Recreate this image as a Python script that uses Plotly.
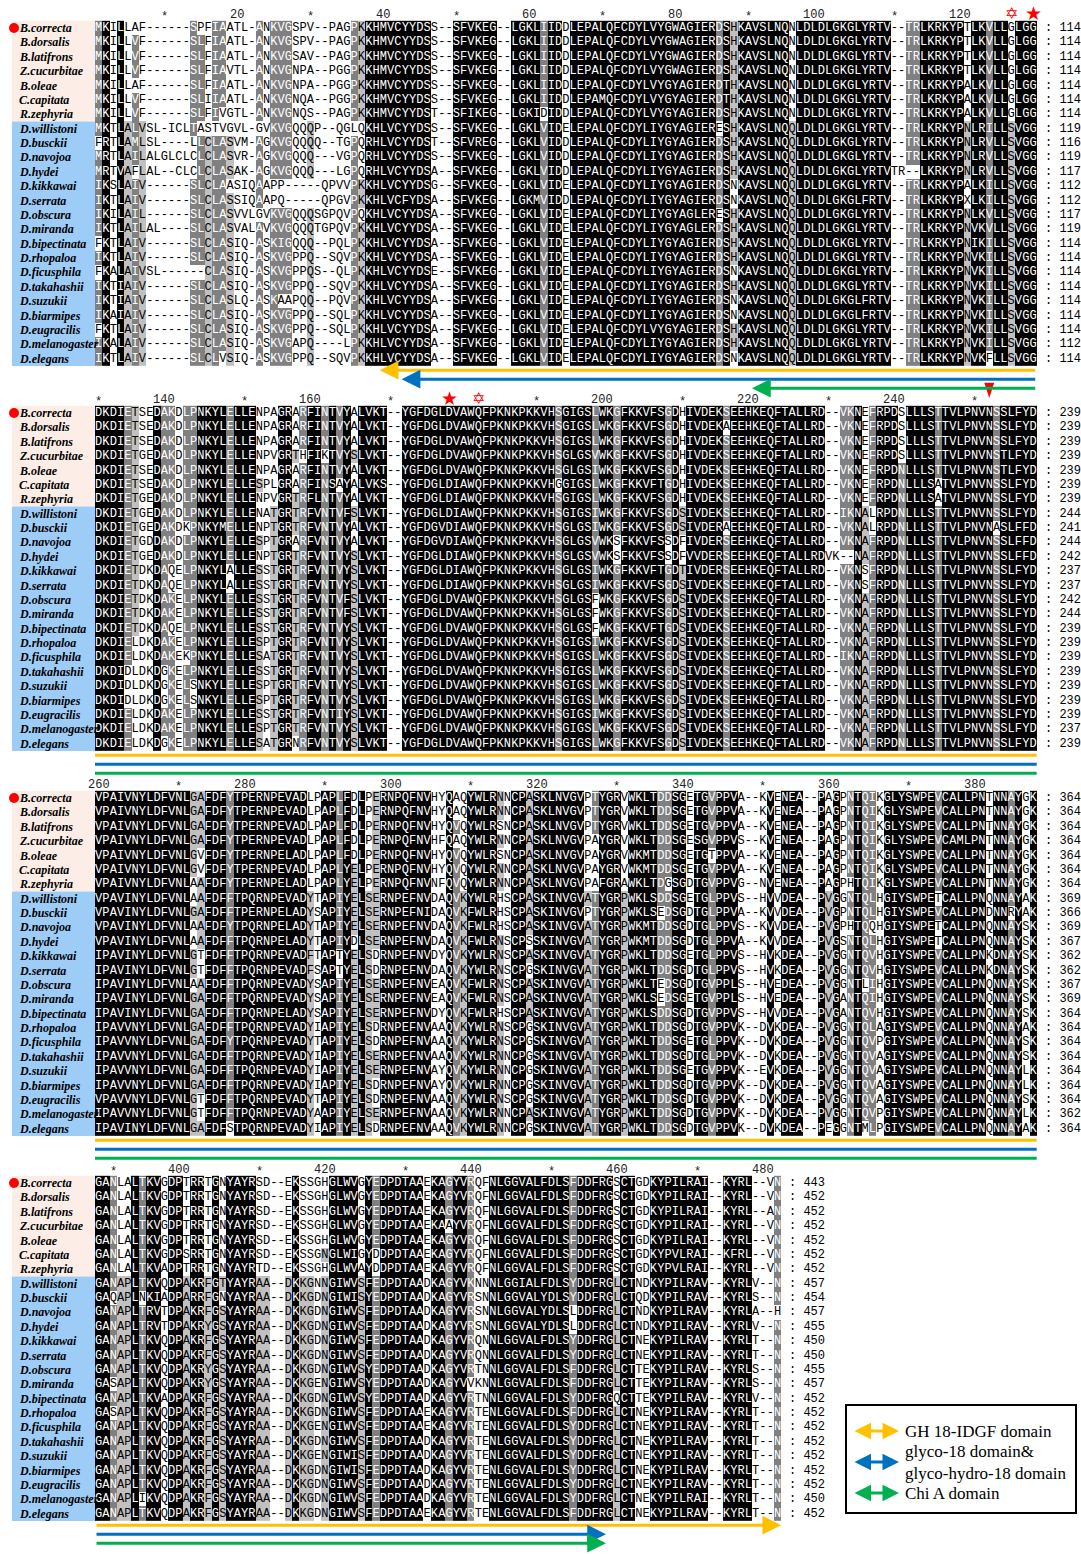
import plotly.graph_objects as go
from collections import Counter

# ---------------- data ----------------
SPECIES = ["B.correcta", "B.dorsalis", "B.latifrons", "Z.cucurbitae", "B.oleae", "C.capitata",
           "R.zephyria", "D.willistoni", "D.busckii", "D.navojoa", "D.hydei", "D.kikkawai",
           "D.serrata", "D.obscura", "D.miranda", "D.bipectinata", "D.rhopaloa", "D.ficusphila",
           "D.takahashii", "D.suzukii", "D.biarmipes", "D.eugracilis", "D.melanogaster", "D.elegans"]
N_TEPHRITIDAE = 7

BLOCK1_A = [
    "MKILLAF------SPFIAATL-ANKVGSPV--PAGPKKHMVCY",
    "MKILLVF------SLFIAATL-ANKVGSPV--PAGPKKHMVCY",
    "MKILLVF------SLFIAATL-ANKVGSAV--PAGPKKHMVCY",
    "MKILLVF------SLFIAVTL-ANKVGNPA--PGGPKKHMVCY",
    "MKILLAF------SLFIAATL-ANKVGNPA--PGGPKKHMVCY",
    "MKILLVF------SLIIAATL-ANKVGNQA--PGGPKKHMVCY",
    "MKILLVF------SLFIVGTL-ANKVGNQS--PAGPKKHMVCY",
    "MKTLALVSL-ICLTASTVGVL-GVKVGQQQP--QGLQKHLVCY",
    "FRTLAMLSL----LLCLASVM-AGKVGQQQQ--TGPQRHLVCY",
    "MRTLAILALGLCLCLCLASVR-AGKVGQQQ---VGPQRHLVCY",
    "MRTVAFLAL--CLCLCLASAK-AGKVGQQQ---LGPQRHLVCY",
    "IKSLAIV------SLCLAASIQAAPP-----QPVVPKKHLVCY",
    "IKTLAIV------SLCLASSIQAAPQ-----QPGVPKKHLVCF",
    "IKILAIL------SLCLASVVLGVKVGQQQSGPQVPQKHLVCY",
    "IKTLAILAL----SLCLASVALAVKVGQQQTGPQVPKKHLVCY",
    "FKTLAIV------SLCLASIQ-ASKIGQQQ--PQLPKKHLVCY",
    "IKTLAIV------SLCLASIQ-ASKVGPPQ--SQVPKKHLVCY",
    "FKALAIVSL------CLASIQ-ASKVGPPQS--QLPKKHLVCY",
    "IKTIAIV------SLCLASIQ-ASKVGPPQ--SQVPKKHLVCY",
    "IKTIAIV------SLCLASLQ-ASKAAPQQ--PQVPKKHLVCY",
    "IKAIAIV------SLCLASIQ-ASKVGPPQ--SQLPKKHLVCY",
    "FKTLAIV------SLCLASIQ-ASKVGPPQ--SQLPKKHLVCY",
    "IKALAIV------SLCLASIQ-ASKVGAPQ----LPKKHLVCY",
    "IKTLAIV------SLCLVSIQ-ASKVGPPQ--SQVPKKHLVCY",
]
BLOCK1_B = [
    "YDSS--SFVKEG--LGKLIIDDLEPALQFCDYLVYGWAGIERD",
    "YDSS--SFVKEG--LGKLIIDDLEPALQFCDYLVYGWAGIERD",
    "YDSS--SFVKEG--LGKLIIDDLEPALQFCDYLVYGWAGIERD",
    "YDSS--SFVKEG--LGKLIIDDLEPALQFCDYLVYGWAGIERD",
    "YDSS--SFVKEG--LGKLIIDDLEPALQFCDYLVYGYAGIERD",
    "YDSS--SFVKEG--LGKLIIDDLEPAMQFCDYLVYGYAGIERD",
    "YDST--SFIKEG--LGKIDIDDLEPALQFCDYLVYGYAGIERD",
    "YDSS--SFVKEG--LGKLVIDELEPALQFCDYLIYGYAGIERE",
    "YDST--SFVREG--LGKLVIDDLEPALQFCDYLIYGYAGIERD",
    "YDSS--SFVKEG--LGKLVIDDLEPALQFCDYLIYGYAGIERD",
    "YDSA--SFVKEG--LGKLVIDDLEPALQFCDYLIYGYAGIERD",
    "YDSG--SFVKEG--LGKLVIDELEPALQFCDYLIYGYAGIERD",
    "YDSA--SFVKEG--LGKMVIDDLEPALQFCDYLIYGYAGIERD",
    "YDSA--SFVKEG--LGKLVIDELEPALQFCDYLIYGYAGLERE",
    "YDSA--SFVKEG--LGKLVIDELEPALQFCDYLIYGYAGLERD",
    "YDSA--SFVKEG--LGKLVIDELEPALQFCDYLIYGYAGIERD",
    "YDSA--SFVKEG--LGKLVIDELEPALQFCDYLIYGYAGIERD",
    "YDSE--SFVKEG--LGKLVIDELEPALQFCDYLIYGYAGIERD",
    "YDSA--SFVKEG--LGKLVIDELEPALQFCDYLIYGYAGIERD",
    "YDSA--SFVKEG--LGKLVIDELEPALQFCDYLIYGYAGIERD",
    "YDSA--SFVKEG--LGKLVIDELEPALQFCDYLIYGYAGIERD",
    "YDSA--SFVKEG--LGKLVIDELEPALQFCDYLVYGYAGIERD",
    "YDSA--SFVKEG--LGKLVIDELEPALQFCDYLIYGYAGIERD",
    "YDSA--SFVKEG--LGKLVIDELEPALQFCDYLIYGYAGIERD",
]
BLOCK1_C = [
    "SHKAVSLNQNLDLDLGKGLYRTV--TRLKRKYPTLKVLLGLGG",
    "SHKAVSLNQNLDLDLGKGLYRTV--TRLKRKYPTLKVLLGLGG",
    "SHKAVSLNQNLDLDLGKGLYRTV--TRLKRKYPTLKVLLGLGG",
    "SHKAVSLNQNLDLDLGKGLYRTV--TRLKRKYPTLKVLLGLGG",
    "THKAVSLNQNLDLDLGKGLYRTV--TRLKRKYPALKVLLGLGG",
    "THKAVSLNQNLDLDLGKGLYRTV--TRLKRKYPALKVLLGLGG",
    "SHKAVSLNQNLDLDLGKGLYRTV--TRLKRKYPALKVLLGLGG",
    "SHKAVSLNQQLDLDLGKGLYRTV--TRLKRKYPNLRILLSVGG",
    "SHKAVSLNQQLDLDLGKGLYRTV--TRLKRKYPNLRVLLSVGG",
    "SHKAVSLNQQLDLDLGKGLYRTV--TRLKRKYPNLRVLLSVGG",
    "SHKAVSLNQQLDLDLGKGLYRTVTR--LKRKYPNLRVLLSVGG",
    "SNKAVSLNQQLDLDLGKGLYRTV--TRLKRKYPALKILLSVGG",
    "SNKAVSLNQQLDLDLGKGLFRTV--TRLKRKYPXLKILLSVGG",
    "SHKAVSLNQQLDLDLGKGLYRTV--TRLKRKYPNLKVLLSVGG",
    "SHKAVSLNQQLDLDLGKGLYRTV--TRLKRKYPNVKVLLSVGG",
    "SHKAVSLNQQLDLDLGKGLYRTV--TRLKRKYPNIKILLSVGG",
    "SHKAVSLNQQLDLDLGKGLYRTV--TRLKRKYPNVKILLSVGG",
    "SNKAVSLNQQLDLDLGKGLYRTV--TRLKRKYPNVKILLSVGG",
    "SHKAVSLNQQLDLDLGKGLYRTV--TRLKRKYPNVKILLSVGG",
    "SNKAVSLNQQLDLDLGKGLFRTV--TRLKRKYPNVKILLSVGG",
    "SNKAVSLNQQLDLDLGKGLFRTV--TRLKRKYPNVKILLSVGG",
    "SHKAVSLNQQLDLDLGKGLYRTV--TRLKRKYPNVKILLSVGG",
    "SHKAVSLNQQLDLDLGKGLYRTV--TRLKRKYPNVKILLSVGG",
    "SNKAVSLNQQLDLDLGKGLYRTV--TRLKRKYPNVKFLLSVGG",
]

BLOCK2_A = [
    "DKDIETSEDAKDLPNKYLELLENPAGRARFINTVYALVKT--Y",
    "DKDIETSEDAKDLPNKYLELLENPAGRARFINTVYALVKT--Y",
    "DKDIETSEDAKDLPNKYLELLENPAGRARFINTVYALVKT--Y",
    "DKDIETGEDAKDLPNKYLELLENPVGRTHFIKTVYSLVKT--Y",
    "DKDIETSEDAKDLPNKYLELLENPAGRARFINTVYALVKT--Y",
    "DKDIETSEDAKDLPNKYLELLESPLGRARFINSAYALVKS--Y",
    "DKDIETGEDAKDLPNKYLELLENPVGRTRFLNTVYALVKT--Y",
    "DKDIETGEDAKDLPNKYLELLENATGRTRFVNTVFSLVKT--Y",
    "DKDIETGEDAKDKPNKYMELLENPTGRTRFVNTVYALVKT--Y",
    "DKDIETGDDAKDLPNKYLELLESPTGRARFVNTVYALVKT--Y",
    "DKDIETGEDAKDLPNKYLELLENPTGRTRFVNTVYSLVKT--Y",
    "DKDIETDKDAQELPNKYLALLESSTGRTRFVNTVYSLVKT--Y",
    "DKDIETDKDAQELPNKYLALLESSTGRTRFVNTVYSLVKT--Y",
    "DKDIETDKDAKELPNKYLELLESSTGRTRFVNTVFSLVKT--Y",
    "DKDIETDKDAKELPNKYLELLESSTGRTRFVNTVFSLVKT--Y",
    "DKDIETDKDAQELPNKYLELLESSTGRTRFVNTVYSLVKT--Y",
    "DKDIELDKDAKELPNKYLELLESPTGRTRFVNTVYSLVKT--Y",
    "DKDIELDKDAKEKPNKYLELLESATGRTRFVNTVYSLVKT--Y",
    "DKDIDLDKDGKELPNKYLELLESSTGRTRFVNTVYSLVKT--Y",
    "DKDIDLDKDGKELSNKYLELLESPTGRTRFVNTVYSLVKT--Y",
    "DKDIDLDKDGKELSNKYLELLESPTGRTRFVNTVYSLVKT--Y",
    "DKDIELDKDAKELPNKYLELLESSTGRTRFVNTIYSLVKT--Y",
    "DKDIELDKDAKELPNKYLELLESPTGRTRFVNTVYSLVKT--Y",
    "DKDIELDKDGKELPNKYLELLESATGRNRFVNTVYSLVKT--Y",
]
BLOCK2_B = [
    "GFDGLDVAWQFPKNKPKKVHSGIGSLWKGFKKVFSGDHIVDEK",
    "GFDGLDVAWQFPKNKPKKVHSGIGSLWKGFKKVFSGDHIVDEK",
    "GFDGLDVAWQFPKNKPKKVHSGIGSLWKGFKKVFSGDHIVDEK",
    "GFDGLDVAWQFPKNKPKKVHSGLGSVWKGFKKVFSGDHIVDEK",
    "GFDGLDVAWQFPKNKPKKVHSGLGSIWKGFKKVFSGDHIVDEK",
    "GFDGLDIAWQFPKNKPKKVHGGIGSLWKGFKKVFTGDHIVDEK",
    "GFDGLDIAWQFPKNKPKKVHSGIGSLWKGFKKVFSGDHIVDEK",
    "GFDGLDIAWQFPKNKPKKVHSGIGSIWKGFKKVFSGDSIVDEK",
    "GFDGVDIAWQFPKNKPKKVHSGLGSIWKGFKKVFSGDSIVDER",
    "GFDGVDIAWQFPKNKPKKVHSGLGSVWKSFKKVFSSDFIVDER",
    "GFDGLDIAWQFPKNKPKKVHSGLGSVWKSFKKVFSSDFVVDER",
    "GFDGLDIAWQFPKNKPKKVHSGLGSIWKGFKKVFTGDTIVDER",
    "GFDGLDIAWQFPKNKPKKVHSGLGSIWKGFKKVFSGDSIVDEK",
    "GFDGLDVAWQFPKNKPKKVHSGLGSFWKGFKKVFSGDSIVDEK",
    "GFDGLDVAWQFPKNKPKKVHSGLGSFWKGFKKVFSGDSIVDEK",
    "GFDGLDVAWQFPKNKPKKVHSGLGSFWKGFKKVFTGDSIVDEK",
    "GFDGLDVAWQFPKNKPKKVHSGIGSIWKGFKKVFSGDSIVDEK",
    "GFDGLDVAWQFPKNKPKKVHSGIGSLWKGFKKVFSGDSIVDEK",
    "GFDGLDVAWQFPKNKPKKVHSGIGSLWKGFKKVFSGDSIVDEK",
    "GFDGLDVAWQFPKNKPKKVHSGIGSLWKGFKKVFSGDSIVDEK",
    "GFDGLDVAWQFPKNKPKKVHSGIGSLWKGFKKVFSGDSIVDEK",
    "GFDGLDVAWQFPKNKPKKVHSGIGSIWKGFKKVFSGDSIVDEK",
    "GFDGLDVAWQFPKNKPKKVHSGIGSLWKGFKKVFSGDSIVDEK",
    "GFDGLDVAWQFPKNKPKKVHSGIGSLWKGFKKVFSGDSIVDEK",
]
BLOCK2_C = [
    "SEEHKEQFTALLRD--VKNEFRPDSLLLSTTVLPNVNSSLFYD",
    "AEEHKEQFTALLRD--VKNEFRPDSLLLSTTVLPNVNSSLFYD",
    "SEEHKEQFTALLRD--VKNEFRPDSLLLSTTVLPNVNSSLFYD",
    "SEEHKEQFTALLRD--VKNEFRPDSLLLSTTVLPNVNSTLFYD",
    "SEEHKEQFTALLRD--VKNEFRPDNLLLSTTVLPNVNSTLFYD",
    "SEEHKEQFTALLRD--VKNEFRPDNLLLSATVLPNVNSSLFYD",
    "SEEHKEQFTALLRD--VKNEFRPDNLLLSATVLPNVNSSLFYD",
    "SEEHKEQFTALLRD--IKNALRPDNLLLSTTVLPNVNSSLFYD",
    "AEEHKEQFTALLRD--VKNALRPDNLLLSTTVLPNVNASLFFD",
    "SEEHKEQFTALLRD--VKNAFRPDNLLLSTTVLPNVNSSLFFD",
    "SEEHKEQFTALLRDVK--NAFRPDNLLLSTTVLPNVNSSLFFD",
    "SEEHKEQFTALLRD--VKNSFRPDNLLLSTTVLPNVNSSLFYD",
    "SEEHKEQFTALLRD--VKNSFRPDNLLLSTTVLPNVNSSLFYD",
    "SEEHKEQFTALLRD--VKNAFRPDNLLLSTTVLPNVNSSLFYD",
    "SEEHKEQFTALLRD--VKNAFRPDNLLLSTTVLPNVNSSLFYD",
    "SEEHKEQFTALLRD--VKNAFRPDNLLLSTTVLPNVNSSLFYD",
    "SEEHKEQFTALLRD--VKNAFRPDNLLLSTTVLPNVNSSLFYD",
    "SEEHKEQFTALLRD--IKNAFRPDNLLLSTTVLPNVNSSLFYD",
    "SEEHKEQFTALLRD--VKNAFRPDNLLLSTTVLPNVNSSLFYD",
    "SEEHKEQFTALLRD--VKNAFRPDNLLLSTTVLPNVNSSLFYD",
    "SEEHKEQFTALLRD--VKNAFRPDNLLLSTTVLPNVNSSLFYD",
    "SEEHKEQFTALLRD--VKNAFRPDNLLLSTTVLPNVNSSLFYD",
    "SEEHKEQFTALLRD--VKNAFRPDNLLLSTTVLPNVNSSLFYD",
    "SEEHKEQFTALLRD--VKNAFRPDNLLLSTTVLPNVNSSLFYD",
]

BLOCK3_A = [
    "VPAIVNYLDFVNLGAFDFYTPERNPEVADLPAPLFDLPERNPQ",
    "VPAIVNYLDFVNLGAFDFYTPERNPEVADLPAPLFDLPERNPQ",
    "VPAIVNYLDFVNLGAFDFYTPERNPEVADLPAPLFDLPERNPQ",
    "VPAIVNYLDFVNLGAFDFYTPERNPEVADLPAPLFDLPERNPQ",
    "VPAIVNYLDFVNLGVFDFYTPERNPELADLPAPLFDLPERNPQ",
    "VPAIVNYLDFVNLGVFDFYTPERNPEVADLPAPLYELPERNPQ",
    "VPAIVNYLDFVNLAAFDFYTPERNPELADLPAPLYELPERNPQ",
    "VPAVINYLDFVNLAAFDFFTPQRNPEVADYTAPIYELSERNPE",
    "VPAVINYLDFVNLGAFDFFTPERNPELADYSAPIYELSERNPE",
    "VPAVINYLDFVNLAAFDFYTPQRNPELADYTAPIYELSERNPE",
    "VPAVINYLDFVNLAAFDFFTPQRNPELADYTAPIYDLSERNPE",
    "IPAVINYLDFVNLGTFDFFTPQRNPEVADFTAPTYELSDRNPE",
    "IPAVINYLDFVNLGTFDFFTPQRNPEVADFSAPTYELSDRNPE",
    "IPAVINYLDFVNLAAFDFFTPQRNPEVADYSAPIYELSERNPE",
    "IPAVINYLDFVNLGAFDFFTPQRNPEVADYSAPIYELSERNPE",
    "IPAVINYLDFVNLGAFDFFTPQRNPELADYSAPIYELSERNPE",
    "IPAVVNYLDFVNLGAFDFFTPQRNPEVADYIAPIYELSDRNPE",
    "IPAVVNYLDFVNLGAFDFYTPQRNPEVADYTAPIYELSDRNPE",
    "IPAVVNYLDFVNLGAFDFFTPQRNPEVADYIAPIYELSERNPE",
    "IPAVVNYLDFVNLGAFDFFTPQRNPEVADYIAPIYELSERNPE",
    "IPAVVNYLDFVNLGAFDFFTPQRNPEVADYIAPIYELSDRNPE",
    "VPAVVNYLDFVNLGTFDFFTPQRNPEVADYTAPIYELSDRNPE",
    "IPAVVNYLDFVNLGTFDFFTPQRNPEVADYAAPIYELSERNPE",
    "IPAVINYLDFVNLGAFDFSTPQRNPEVADYIAPIYELSDRNPE",
]
BLOCK3_B = [
    "FNVHYQAQYWLRNNCPASKLNVGVPTYGRVWKLTDDSGETGVP",
    "FNVHYQAQYWLRNNCPASKLNVGVPTYGRVWKLTDDSGETGVP",
    "FNVHYQVQYWLRSNCPASKLNVGVPTYGRVWKLTDDSGETGVP",
    "FNVHFQAQYWLRNNCPASKLNVGVPAYGRVWKLTDDSGESGVP",
    "FNVHYQVQYWLRSNCPASKLNVGVPAYGRVWKMTDDSGETGTP",
    "FNVHYQVQYWLRNNCPASKLNVGVPAYGRVWKMTDDSGETGVP",
    "FNVNFQVQYWLRNNCPASKLNVGVPAFGRAWKLTDGSGDTGVP",
    "FNVDAQVKYWLRHSCPASKINVGVATYGRPWKLSDDSGETGLP",
    "FNIDAQVKFWLRHSCPASKINVGVPTYGRPWKLSEDSGDTGLP",
    "FNVDAQVKFWLRHSCPASKINVGVATYGRPWKMTDDSGDTGLP",
    "FNVDAQVKFWLRNSCPSSKINVGVATYGRPWKMTDDSGDTGLP",
    "FNVDYQVKYWLRNSCPASKINVGVATYGRPWKLTDDSGETGLP",
    "FNVDAQVKYWLRNSCPGSKINVGVATYGRPWKLTDDSGDTGLP",
    "FNVEAQVKFWLRNSCPASKINVGVATYGRPWKLTEDSGDTGVP",
    "FNVEAQVKFWLRNSCPASKINVGVATYGRPWKLSEDSGETGVP",
    "FNVDYQVKFWLRHSCPASKINVGVATYGRPWKLSDDSGDTGVP",
    "FNVAAQVKYWLRNSCPGSKINVGVATYGRPWKLTDDSGDTGVP",
    "FNVAAQVKYWLRNSCPGSKINVGVATYGRPWKLTDDSGETGLP",
    "FNVAAQVKYWLRNNCPGSKINVGVATYGRPWKLTDDSGDTGLP",
    "FNVAYQVKYWLRNNCPGSKINVGVATYGRPWKLTDDSGETGVP",
    "FNVAYQVKYWLRNNCPGSKINVGVATYGRPWKLTDDSGDTGVP",
    "FNVAAQVKYWLRNSCPGSKINVGVATYGRPWKLTDDSGDTGVP",
    "FNVAAQVKYWLRNNCPASKINVGVATYGRPWKLTDDSGDTGVP",
    "FNVAAQVKYWLRNNCPGSKINVGVATYGRPWKLTDDSGDTGVP",
]
BLOCK3_C = [
    "PVA--KVENEA--PAGPNTQIKGLYSWPEVCALLPNTNNAYGK",
    "PVA--KVENEA--PAGPNTQIKGLYSWPEVCALLPNTNNAYGK",
    "PVA--KVENEA--PAGPNTQIKGLYSWPEVCALLPNTNNAYGK",
    "PVS--KVENEA--PAGPNTQIKGLYSWPEVCAMLPNTNNAYGK",
    "PVA--KVENEA--PAGPNTQIKGLYSWPEVCALLPNTNNAYGK",
    "PVA--KVENEA--PAGPNTQIKGLYSWPEVCALLPNTNNAYGK",
    "PVG--NVENEA--PAGPHTQIKGLYSWPEVCALLPNTNNAYGK",
    "PVS--HVVDEA--PVGGNTQLHGIYSWPETCALLPNQNNAYAK",
    "PVA--KVVDEA--PVGPNTQLHGIYSWPEVCALLPNDNNRYAK",
    "PVS--KVVDEA--PVGPHTQQHGIYSWPETCALLPNQNNAYSK",
    "PVA--KVVDEA--PVGSNTQLHGIYSWPETCALLPNQNNAYSK",
    "PVS--HVKDEA--PVGGNTQVHGIYSWPEVCALLPNKDNAYSK",
    "PVS--HVKDEA--PVGGNTQVHGIYSWPEVCALLPNKDNAYSK",
    "PLS--HVEDEA--PVGGNTLIHGIYSWPEVCALLPNQNNAYSK",
    "PLS--HVEDEA--PVGANTQIHGIYSWPEVCALLPNQNNAYSK",
    "PVS--HVVDEA--PVGANTQVHGIYSWPEVCALLPNQNNAYSK",
    "PVK--DVKDEA--PVGGNTQLAGIYSWPEVCALLPNQNNAYAK",
    "PVK--DVKDEA--PVGGNTQVPGIYSWPEVCALLPNQNNAYSK",
    "PVK--DVKDEA--PVGGNTQVAGIYSWPEVCALLPNQNNAYSK",
    "PVK--EVKDEA--PVGGNTQVAGIYSWPEVCALLPNQNNAYLK",
    "PVK--DVKDEA--PVGGNTQVAGIYSWPEVCALLPNQNNAYLK",
    "PVK--DVKDEA--PVGGNTQVAGIYSWPEVCALLPNQNNAYSK",
    "PVK--DVKDEA--PVGGNTQVPGIYSWPEVCALLPNQNNAYLK",
    "PVK--DVKDEA--PEGGNTMLPGIYSWPEVCALLPNQNNAYAK",
]

BLOCK4_A = [
    "GANLALTKVGDPTRRTGNYAYRSD--EKSSGHGLWVGYEDPDTAAE",
    "GANLALTKVGDPTRRTGNYAYRSD--EKSSGHGLWVGYEDPDTAAE",
    "GANLALTKVGDPTRRTGNYAYRSD--EKSSGHGLWVGYEDPDTAAE",
    "GANLALTKVGDPTRRTGNYAYRSD--EKSSGHGLWVGYEDPDTAAE",
    "GANLALTKVGDPTRRTGNYAYRSD--EKSSGHGLWVGYEDPDTAAE",
    "GANLALTKVGDPSRRTGNYAYRSD--EKSSGNGLWIGYDDPDTAAE",
    "GANLALTKVADPTRRTGNYAYRTD--EKSSGHGLWVAYDDPDTAAE",
    "GANAPLTKVQDPAKRFGTYAYRAA--DKKGNNGIWVSFEDPDTAAD",
    "GAQAPLNKIADPARRFGNYAYRAA--DKKGDNGIWISYEDPDTAAD",
    "GANAPLTRVTDPAKRFGSYAYRAA--DKKGDNGIWVSFEDPDTAAD",
    "GANAPLTRVTDPAKRYGSYAYRAA--DKKGDNGIWVSFEDPDTAAD",
    "GANAPLTKVQDPAKRFGSYAYRAA--DKKGDNGIWVSFEDPDTAAD",
    "GANAPLTKVQDPAKRFGSYAYRAA--DKKGDNGIWVSFEDPDTAAD",
    "GANAPLTKVQDPAKRYGSYAYRAA--DKKGDNGIWVSYEDPDTAAD",
    "GASAPLTKVQDPAKRYGSYAYRAA--DKKGENGIWVSYEDPDTAAD",
    "GANAPLTKVADPAKRFGSYAYRAA--DKKGDNGIWVSYEDPDTAAD",
    "GASAPLTKVQDPAKRFGSYAYRAA--DKKGDNGIWVSFEDPDTAAE",
    "GANAPLTKVQDPAKRFGSYAYRAA--DKKGENGIWVSFEDPDTAAE",
    "GANAPLTKVQDPAKRFGSYAYRAA--DKKGDNGIWVSFEDPDTAAD",
    "GANAPLTKVQDPAKRFGSYAYRAA--DKKGENGIWISFEDPDTAAD",
    "GANAPLTKVQDPAKRFGSYAYRAA--DKKGDNGIWISFEDPDTAAD",
    "GANAPLTKVQDPAKRFGSYAYRAA--DKKGDNGIWVSFEDPDTAAD",
    "GANAPLIKVQDPAKRFGSYAYRAA--DKKGDNGIWVSFEDPDTAAD",
    "GANAPLTKVQDPAKRFGSYAYRAA--DKKGDNGIWVSFEDPDTAAE",
]
BLOCK4_B = [
    "KAGYVRQFNLGGVALFDLSFDDFRGSCTGDKYPILRAI--KYRL--VN",
    "KAGYVRQFNLGGVALFDLSFDDFRGSCTGDKYPILRAI--KYRL--VN",
    "KAGYVRQFNLGGVALFDLSFDDFRGSCTGDKYPILRAI--KYRL--AN",
    "KAAYVRQFNLGGVALFDLSFDDFRGSCTGDKYPILRAI--KYRL--VN",
    "KAGYVRQFNLGGVALFDLSFDDFRGSCTGDKYPILRAI--KYRL--VN",
    "KAGYVRQFNLGGVALFDLSFDDFRGSCTGDKYPVLRAI--KFRL--VN",
    "KAGYVRQFNLGGVALFDLSFDDFRGSCTGDKYPVLRAI--KYRL--VN",
    "KAGYVKNNNLGGIALFDLSYDDFRGLCTNDKYPILRAV--KYRLV--N",
    "KAGYVRSNNLGGVALYDLSYDDFRGLCTQDKYPILRAV--KYRLS--N",
    "KAGYVRSNNLGGVALYDLSLDDFRGLCTNDKYPILRAV--KYRLA--H",
    "KAGYVRSNNLGGVALYDLSLDDFRGLCTNDKYPILRAV--KYRLV--N",
    "KAGYVRQNNLGGVALFDLSYDDFRGLCTNEKYPILRAV--KYRLT--N",
    "KAGYVRQNNLGGVALFDLSYDDFRGLCTNEKYPILRAV--KYRLT--N",
    "KAGYVRTNNLGGVALFDLSFDDFRGLCTTEKYPILRAV--KYRLS--N",
    "KAGYVVKNNLGGVALFDLSFDDFRGLCTTEKYPILRAV--KYRLS--N",
    "KAGYVRTNNLGGVALFDLSYDDFRGQCTTEKYPILRAV--KYRLV--N",
    "KAGYVRTENLGGVALFDLSFDDFRGLCTNEKYPILRAV--KYRLT--N",
    "KAGYVRTENLGGVALFDLSYDDFRGLCTNEKYPILRAV--KYRLT--N",
    "KAGYVRTENLGGVALFDLSYDDFRGLCTNEKYPILRAV--KYRLT--N",
    "KAGYVRTENLGGVALFDLSYDDFRGLCTNEKYPILRAV--KYRLT--N",
    "KAGYVRTENLGGVALFDLSYDDFRGLCTNEKYPILRAV--KYRLT--N",
    "KAGYVRTENLGGVALFDLSYDDFRGLCTNEKYPILRAV--KYRLT--N",
    "KAGYVRTENLGGVALFDLSYDDFRGLCTNEKYPILRAI--KYRLT--N",
    "KAGYVRTENLGGVALFDLSFDDFRGLCTNEKYPILRAV--KYRLT--N",
]

END_COUNTS_1 = [114] * 7 + [119, 116, 119, 117, 112, 112, 117, 119, 114, 114, 114, 114, 114, 114, 114, 112, 114]
END_COUNTS_2 = [239] * 7 + [244, 241, 244, 242, 237, 237, 242, 244, 239, 239, 239, 239, 239, 239, 239, 237, 239]
END_COUNTS_3 = [364] * 7 + [369, 366, 369, 367, 362, 362, 367, 369, 364, 364, 364, 364, 364, 364, 364, 362, 364]
END_COUNTS_4 = [443] + [452] * 6 + [457, 454, 457, 455, 450, 450, 455, 457, 452, 452, 452, 452, 452, 452, 452, 450, 452]

SOLID_STAR_COLS = [129, 178]      # alignment columns marked with a red star
HEXAGRAM_COLS = [126, 182]        # alignment columns marked with a red hexagram
ARROW_MARK_COLS = [252]           # alignment column marked with a red arrowhead

DOMAIN_LABELS = ["GH 18-IDGF domain", "glyco-18 domain&<br>glyco-hydro-18 domain", "Chi A domain"]
DOMAIN_START = [40, 43, 91]
DOMAIN_END = [481, 457, 457]
DOMAIN_COLORS = ["#FFC000", "#0070C0", "#00B050"]

SIMILARITY_GROUPS = ["DN", "EQ", "ST", "KR", "FYW", "LIVM"]

# ---------------- assemble ----------------
def join_parts(*parts):
    return [''.join(p) for p in zip(*parts)]

BLOCKS = [join_parts(BLOCK1_A, BLOCK1_B, BLOCK1_C),
          join_parts(BLOCK2_A, BLOCK2_B, BLOCK2_C),
          join_parts(BLOCK3_A, BLOCK3_B, BLOCK3_C),
          join_parts(BLOCK4_A, BLOCK4_B)]
END_COUNTS = [END_COUNTS_1, END_COUNTS_2, END_COUNTS_3, END_COUNTS_4]

BLOCK_START = []
_c = 1
for blk in BLOCKS:
    BLOCK_START.append(_c)
    _c += len(blk[0])

# ---------------- geometry / style ----------------
X0, CW = 95.0, 7.3
ROW_H = 14.38
BLOCK_TOP = [28.0, 413.0, 798.0, 1183.0]
PEACH = "#FCEEE6"
BLUE = "#9DCDF7"
MONO = "Liberation Mono"
SERIF = "Liberation Serif"


def col_x(i):
    return X0 + (i + 0.5) * CW


def row_y(b, r):
    return BLOCK_TOP[b] + r * ROW_H


def group_of(ch):
    for g in SIMILARITY_GROUPS:
        if ch in g:
            return g
    return ch


def shading(block):
    nrow, ncol = len(block), len(block[0])
    z = [[0] * ncol for _ in range(nrow)]
    for j in range(ncol):
        col = [row[j] for row in block]
        cnt = Counter(group_of(c) for c in col if c.isalpha() and c != 'X')
        if not cnt:
            continue
        g, n = cnt.most_common(1)[0]
        f = n / nrow
        lvl = 3 if n == nrow else (2 if f >= 0.8 else (1 if f >= 0.6 else 0))
        if lvl == 0:
            continue
        for i, c in enumerate(col):
            if c.isalpha() and c != 'X' and group_of(c) == g:
                z[i][j] = lvl
    return z


CS = [[0, "#FFFFFF"], [0.25, "#FFFFFF"], [0.25, "#C0C0C0"], [0.5, "#C0C0C0"],
      [0.5, "#808080"], [0.75, "#808080"], [0.75, "#000000"], [1, "#000000"]]

fig = go.Figure()
shapes = []
annotations = []

all_markers = SOLID_STAR_COLS + HEXAGRAM_COLS + ARROW_MARK_COLS

for b, block in enumerate(BLOCKS):
    nrow, ncol = len(block), len(block[0])
    start = BLOCK_START[b]
    end = start + ncol - 1
    z = shading(block)
    xs = [col_x(i) for i in range(ncol)]
    ys = [row_y(b, r) for r in range(nrow)]
    fig.add_trace(go.Heatmap(z=z, x=xs, y=ys, zmin=0, zmax=3, colorscale=CS,
                             showscale=False, hoverinfo="skip"))
    wx, wy, wt, kx, ky, kt = [], [], [], [], [], []
    for r, row in enumerate(block):
        for i, ch in enumerate(row):
            if z[r][i] >= 2:
                wx.append(xs[i]); wy.append(ys[r]); wt.append(ch)
            else:
                kx.append(xs[i]); ky.append(ys[r]); kt.append(ch)
    fig.add_trace(go.Scatter(x=wx, y=wy, text=wt, mode="text", textposition="middle center",
                             textfont=dict(family=MONO, size=12, color="white"),
                             hoverinfo="skip", cliponaxis=False))
    fig.add_trace(go.Scatter(x=kx, y=ky, text=kt, mode="text", textposition="middle center",
                             textfont=dict(family=MONO, size=12, color="black"),
                             hoverinfo="skip", cliponaxis=False))

    # name panels
    top_edge = ys[0] - ROW_H / 2
    split = ys[N_TEPHRITIDAE - 1] + ROW_H / 2
    bottom = ys[-1] + ROW_H / 2
    shapes.append(dict(type="rect", xref="x", yref="y", x0=12, x1=X0, y0=top_edge, y1=split,
                       fillcolor=PEACH, line=dict(width=0), layer="below"))
    shapes.append(dict(type="rect", xref="x", yref="y", x0=12, x1=X0, y0=split, y1=bottom,
                       fillcolor=BLUE, line=dict(width=0), layer="below"))
    for r, name in enumerate(SPECIES):
        annotations.append(dict(x=17, y=ys[r], xref="x", yref="y", text="<b><i>%s</i></b>" % name,
                                showarrow=False, xanchor="left", yanchor="middle",
                                font=dict(family=SERIF, size=12, color="black")))
        annotations.append(dict(x=X0 + ncol * CW + 6, y=ys[r], xref="x", yref="y",
                                text=": %d" % END_COUNTS[b][r], showarrow=False,
                                xanchor="left", yanchor="middle",
                                font=dict(family=MONO, size=12, color="black")))
    fig.add_trace(go.Scatter(x=[14], y=[ys[0]], mode="markers",
                             marker=dict(color="#FF0000", size=10), hoverinfo="skip", cliponaxis=False))

    # ruler
    ry = BLOCK_TOP[b] - 13
    n = ((start + 9) // 10) * 10
    while n <= end:
        lab = str(n) if n % 20 == 0 else "*"
        if lab != "*" and any(abs(m - n) <= 3 for m in all_markers):
            n += 10
            continue
        idx = n - start - (1 if len(lab) == 3 else 0)
        annotations.append(dict(x=col_x(idx), y=ry + (2 if lab == "*" else 0), xref="x", yref="y",
                                text=lab, showarrow=False, xanchor="center", yanchor="middle",
                                font=dict(family=MONO, size=12, color="#222222")))
        n += 10

    # red markers
    for m in SOLID_STAR_COLS:
        if start <= m <= end:
            annotations.append(dict(x=col_x(m - start), y=BLOCK_TOP[b] - 15, xref="x", yref="y",
                                    text="★", showarrow=False, xanchor="center", yanchor="middle",
                                    font=dict(family="DejaVu Sans", size=19, color="#FF0000")))
    for m in HEXAGRAM_COLS:
        if start <= m <= end:
            annotations.append(dict(x=col_x(m - start), y=BLOCK_TOP[b] - 15, xref="x", yref="y",
                                    text="<b>✡</b>", showarrow=False, xanchor="center", yanchor="middle",
                                    font=dict(family="DejaVu Sans", size=16, color="#FF0000")))
    for m in ARROW_MARK_COLS:
        if start <= m <= end:
            fig.add_trace(go.Scatter(x=[col_x(m - start)], y=[BLOCK_TOP[b] - 15], mode="markers",
                                     marker=dict(symbol="arrow", angle=180, size=16, color="#FF0000"),
                                     hoverinfo="skip", cliponaxis=False))

    # domain bars
    offsets = [11.5, 20.5, 29.5]
    for d in range(len(DOMAIN_LABELS)):
        s = max(DOMAIN_START[d], start)
        e = min(DOMAIN_END[d], end)
        if s > e:
            continue
        xl = X0 + (s - start) * CW
        xr = X0 + (e - start + 1) * CW
        y = ys[-1] + offsets[d]
        left_head = (s == DOMAIN_START[d])
        right_head = (e == DOMAIN_END[d])
        col = DOMAIN_COLORS[d]
        common = dict(xref="x", yref="y", axref="x", ayref="y", text="", showarrow=True,
                      arrowhead=2, arrowsize=1.25, arrowwidth=3, arrowcolor=col, standoff=0)
        if left_head and right_head:
            annotations.append(dict(x=xr, y=y, ax=xl, ay=y, arrowside="end+start",
                                    startarrowhead=2, startarrowsize=1.25, **common))
        elif left_head:
            annotations.append(dict(x=xl, y=y, ax=xr, ay=y, **common))
        elif right_head:
            annotations.append(dict(x=xr, y=y, ax=xl, ay=y, **common))
        else:
            shapes.append(dict(type="line", xref="x", yref="y", x0=xl, x1=xr, y0=y, y1=y,
                               line=dict(color=col, width=3)))

# ---------------- legend box ----------------
shapes.append(dict(type="rect", xref="x", yref="y", x0=846, x1=1076, y0=1405, y1=1513,
                   line=dict(color="black", width=2), fillcolor="rgba(0,0,0,0)"))
legend_y = [1431, 1462, 1493]
for d in range(len(DOMAIN_LABELS)):
    annotations.append(dict(x=899, y=legend_y[d], ax=853, ay=legend_y[d], xref="x", yref="y",
                            axref="x", ayref="y", text="", showarrow=True, arrowside="end+start",
                            arrowhead=2, startarrowhead=2, arrowsize=1.1, startarrowsize=1.1,
                            arrowwidth=3, arrowcolor=DOMAIN_COLORS[d]))
    annotations.append(dict(x=903, y=legend_y[d], xref="x", yref="y", text=DOMAIN_LABELS[d],
                            showarrow=False, xanchor="left", yanchor="middle", align="left",
                            font=dict(family=SERIF, size=17, color="black")))

fig.update_layout(
    width=1081, height=1554,
    margin=dict(l=0, r=0, t=0, b=0),
    paper_bgcolor="white", plot_bgcolor="white",
    showlegend=False,
    xaxis=dict(range=[0, 1081], visible=False, fixedrange=True),
    yaxis=dict(range=[1554, 0], visible=False, fixedrange=True),
    shapes=shapes,
    annotations=annotations,
)

fig.write_html("out.html",
               config={"displayModeBar": False, "staticPlot": True},
               post_script="document.documentElement.style.margin='0';"
                           "document.body.style.margin='0';document.body.style.padding='0';"
                           "document.body.style.overflow='hidden';")
